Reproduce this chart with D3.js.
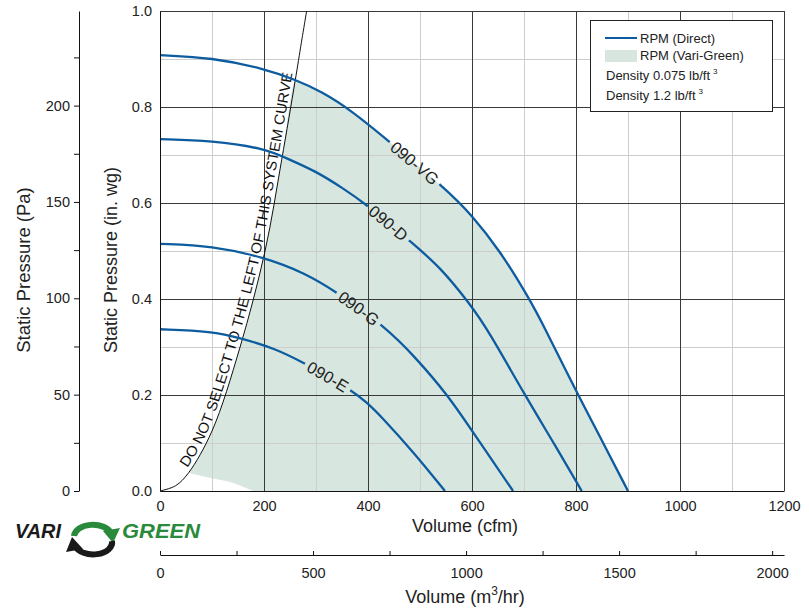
<!DOCTYPE html>
<html><head><meta charset="utf-8">
<script src="https://cdn.jsdelivr.net/npm/d3@7"></script>
<style>
body{margin:0;background:#fff}
text{font-family:"Liberation Sans",Arial,Helvetica,sans-serif}
</style>
</head><body>
<svg id="c" width="809" height="608"></svg>
<script>
// ---------------- data ----------------
const vgCfm = [0, 100, 200, 260, 311, 369, 442, 548, 599, 654, 708, 740, 800, 850, 900];
const vgIn  = [0.908, 0.903, 0.88, 0.857, 0.832, 0.792, 0.727, 0.631, 0.576, 0.5, 0.405, 0.34, 0.208, 0.105, 0];
const dCfm  = [0, 100, 200, 244, 300, 350, 400, 490, 538, 596, 631, 702, 760, 811];
const dIn   = [0.733, 0.73, 0.714, 0.693, 0.666, 0.632, 0.595, 0.512, 0.467, 0.39, 0.335, 0.199, 0.095, 0];
const gCfm  = [0, 100, 200, 279, 343, 433, 490, 554, 599, 679];
const gIn   = [0.515, 0.511, 0.487, 0.454, 0.412, 0.342, 0.28, 0.199, 0.127, 0];
const eCfm  = [0, 100, 157, 221, 279, 369, 398, 423, 490, 548];
const eIn   = [0.337, 0.333, 0.318, 0.297, 0.266, 0.21, 0.184, 0.158, 0.078, 0];
const curveNames = ["090-VG", "090-D", "090-G", "090-E"];
const labelStartCfm = [442, 400, 340, 279];

// system curve
const sysCfm = [0, 30, 55, 100, 154, 202, 234, 260, 272, 282];
const sysIn  = [0, 0.011, 0.038, 0.125, 0.30, 0.50, 0.69, 0.855, 0.935, 1.0];
const sysLabel = "DO NOT SELECT TO THE LEFT OF THIS SYSTEM CURVE";

// Vari-Green shaded area: lower boundary (min speed) and corner
const vgLowCfm = [55, 102, 141, 179];
const vgLowIn  = [0.0375, 0.026, 0.0167, 0];
const vgTopStartCfm = 264, vgTopStartIn = 0.855;

// axes ticks
const cfmTicks = [0, 200, 400, 600, 800, 1000, 1200];
const cfmMinor = [100, 300, 500, 700, 900, 1100];
const inTicks  = [0, 0.2, 0.4, 0.6, 0.8, 1.0];
const inMinor  = [0.1, 0.3, 0.5, 0.7, 0.9];
const paTicks  = [0, 25, 50, 75, 100, 125, 150, 175, 200, 225];
const m3Ticks  = [0, 250, 500, 750, 1000, 1250, 1500, 1750, 2000];

const legendItems = ["RPM (Direct)", "RPM (Vari-Green)"];
const densityItems = ["Density 0.075 lb/ft", "Density 1.2 lb/ft"];

// ---------------- drawing ----------------
const svg = d3.select("#c");
const X0 = 160, X1 = 784, Y0 = 491, Y1 = 11;
const x = d3.scaleLinear([0, 1200], [X0, X1]);
const y = d3.scaleLinear([0, 1], [Y0, Y1]);
const BLUE = "#0d5c9f", SHADE = "#d8e6e0";
const ln = d3.line().x(d => x(d[0])).y(d => y(d[1])).curve(d3.curveCatmullRom.alpha(0.5));
const lnFan = d3.line().x(d => x(d[0])).y(d => y(d[1])).curve(d3.curveBasis);

// shaded region
const topPts = [[vgTopStartCfm, vgTopStartIn]];
vgCfm.forEach((c, i) => { if (c > vgTopStartCfm) topPts.push([c, vgIn[i]]); });
const lowPts = [];
for (let i = vgLowCfm.length - 1; i >= 0; i--) lowPts.push([vgLowCfm[i], vgLowIn[i]]);
const sysPts = [[vgLowCfm[0], vgLowIn[0]]];
sysCfm.forEach((c, i) => { if (c > vgLowCfm[0] && c < vgTopStartCfm) sysPts.push([c, sysIn[i]]); });
sysPts.push([vgTopStartCfm, vgTopStartIn]);
const shadeD = lnFan(topPts) + "L" + ln(lowPts).slice(1) + "L" + ln(sysPts).slice(1) + "Z";
svg.append("path").attr("d", shadeD).attr("fill", SHADE);

// gridlines
const grid = svg.append("g").attr("shape-rendering", "crispEdges");
cfmMinor.forEach(v => grid.append("line").attr("x1", x(v)).attr("x2", x(v)).attr("y1", Y0).attr("y2", Y1).attr("stroke", "#cdcdcd"));
inMinor.forEach(v => grid.append("line").attr("x1", X0).attr("x2", X1).attr("y1", y(v)).attr("y2", y(v)).attr("stroke", "#cdcdcd"));
cfmTicks.slice(1).forEach(v => grid.append("line").attr("x1", x(v)).attr("x2", x(v)).attr("y1", Y0).attr("y2", Y1).attr("stroke", "#3a3a3a"));
inTicks.slice(1).forEach(v => grid.append("line").attr("x1", X0).attr("x2", X1).attr("y1", y(v)).attr("y2", y(v)).attr("stroke", "#3a3a3a"));

// system curve
const sysPath = svg.append("path").attr("id", "sys")
  .attr("d", ln(sysCfm.map((c, i) => [c, sysIn[i]])))
  .attr("fill", "none").attr("stroke", "#111").attr("stroke-width", 1);

function lengthAtY(node, ty) {
  let lo = 0, hi = node.getTotalLength();
  for (let k = 0; k < 40; k++) { const m = (lo + hi) / 2; if (node.getPointAtLength(m).y > ty) lo = m; else hi = m; }
  return lo;
}
function lengthAtX(node, tx) {
  let lo = 0, hi = node.getTotalLength();
  for (let k = 0; k < 40; k++) { const m = (lo + hi) / 2; if (node.getPointAtLength(m).x < tx) lo = m; else hi = m; }
  return lo;
}
const sysStart = lengthAtY(sysPath.node(), 470);
const sysEnd = lengthAtY(sysPath.node(), 74);
svg.append("text").attr("font-size", 14.5).attr("fill", "#111").attr("dy", -4)
  .append("textPath").attr("href", "#sys").attr("startOffset", sysStart)
  .attr("textLength", sysEnd - sysStart).attr("lengthAdjust", "spacingAndGlyphs").text(sysLabel);

// fan curves
const curves = [[vgCfm, vgIn], [dCfm, dIn], [gCfm, gIn], [eCfm, eIn]];
curves.forEach((cv, i) => {
  const id = "fan" + i;
  const p = svg.append("path").attr("id", id)
    .attr("d", lnFan(cv[0].map((c, j) => [c, cv[1][j]])))
    .attr("fill", "none").attr("stroke", BLUE).attr("stroke-width", 2.3);
  const node = p.node(), total = node.getTotalLength();
  const s = lengthAtX(node, x(labelStartCfm[i]));
  const t = svg.append("text").attr("font-size", 16.5).attr("fill", "#222").attr("dy", "0.36em");
  t.append("textPath").attr("href", "#" + id).attr("startOffset", s + 4).text(curveNames[i]);
  const w = t.node().getComputedTextLength();
  p.attr("stroke-dasharray", `${s} ${w + 8} ${total}`);
});

function styleText(g) {
  g.selectAll("text").attr("font-size", 14.5).attr("fill", "#222").style("font-family", "Liberation Sans, Arial");
}
// left in.wg axis
const axIn = svg.append("g").attr("transform", `translate(${X0},0)`)
  .call(d3.axisLeft(y).tickValues(inTicks).tickFormat(d3.format(".1f")).tickSize(0).tickPadding(8));
axIn.select(".domain").attr("stroke", "#111");
styleText(axIn);

// bottom cfm axis
const axX = svg.append("g").attr("transform", `translate(0,${Y0})`)
  .call(d3.axisBottom(x).tickValues(cfmTicks).tickFormat(d3.format("d")).tickSize(0).tickPadding(10));
axX.select(".domain").attr("stroke", "#111");
styleText(axX);

// Pa axis
const pa = d3.scaleLinear([0, 249.09], [Y0, Y1]);
const axPa = svg.append("g").attr("transform", "translate(79,0)")
  .call(d3.axisLeft(pa).tickValues(paTicks).tickFormat(d => d % 50 === 0 ? d : "").tickSizeInner(5).tickSizeOuter(0).tickPadding(4));
axPa.select(".domain").attr("stroke", "#111");
axPa.selectAll("line").attr("stroke", "#111");
styleText(axPa);

// m3/hr axis
const m3 = d3.scaleLinear([0, 1200 / 0.5886], [X0, X1]);
const axM = svg.append("g").attr("transform", "translate(0,555)")
  .call(d3.axisBottom(m3).tickValues(m3Ticks).tickFormat(d => d % 500 === 0 ? String(d) : "").tickSizeInner(-4).tickSizeOuter(0).tickPadding(13));
axM.select(".domain").attr("stroke", "#111");
axM.selectAll("line").attr("stroke", "#111");
styleText(axM);

// axis titles
svg.append("text").attr("transform", "translate(30,270) rotate(-90)").attr("text-anchor", "middle")
  .attr("font-size", 18.5).attr("fill", "#222").text("Static Pressure (Pa)");
svg.append("text").attr("transform", "translate(117,260) rotate(-90)").attr("text-anchor", "middle")
  .attr("font-size", 18).attr("fill", "#222").text("Static Pressure (in. wg)");
svg.append("text").attr("x", 465).attr("y", 532).attr("text-anchor", "middle")
  .attr("font-size", 18).attr("fill", "#222").text("Volume (cfm)");
const tm = svg.append("text").attr("x", 465).attr("y", 603).attr("text-anchor", "middle")
  .attr("font-size", 18).attr("fill", "#222");
tm.append("tspan").text("Volume (m");
tm.append("tspan").attr("font-size", 12).attr("dy", -8).text("3");
tm.append("tspan").attr("dy", 8).text("/hr)");

// legend
const lg = svg.append("g");
lg.append("rect").attr("x", 590.5).attr("y", 20.5).attr("width", 182).attr("height", 91)
  .attr("fill", "#fff").attr("stroke", "#222");
lg.append("line").attr("x1", 605).attr("x2", 637).attr("y1", 38).attr("y2", 38).attr("stroke", BLUE).attr("stroke-width", 2);
lg.append("rect").attr("x", 605).attr("y", 50).attr("width", 32).attr("height", 12).attr("fill", SHADE);
legendItems.forEach((t, i) => lg.append("text").attr("x", 640).attr("y", 43 + i * 17).attr("font-size", 13).attr("fill", "#222").text(t));
densityItems.forEach((d, i) => {
  const t = lg.append("text").attr("x", 606).attr("y", 80 + i * 20).attr("font-size", 13).attr("fill", "#222");
  t.append("tspan").text(d);
  t.append("tspan").attr("font-size", 8).attr("dx", 3).attr("dy", -6).text("3");
});

// logo
const logo = svg.append("g");
logo.append("text").attr("x", 15).attr("y", 538).attr("font-size", 21).attr("font-style", "italic").attr("font-weight", "bold")
  .attr("fill", "#1a1a1a").attr("textLength", 46).attr("lengthAdjust", "spacingAndGlyphs").text("VARI");
logo.append("path").attr("d", "M74,536 A19,12 0 0,1 111,533").attr("fill", "none").attr("stroke", "#2a8a3c").attr("stroke-width", 6);
logo.append("path").attr("d", "M103,531 L120,528 L113,543 Z").attr("fill", "#2a8a3c");
logo.append("path").attr("d", "M112,541 A19,12 0 0,1 75,546").attr("fill", "none").attr("stroke", "#1a1a1a").attr("stroke-width", 6);
logo.append("path").attr("d", "M83,549 L66,552 L72,537 Z").attr("fill", "#1a1a1a");
logo.append("text").attr("x", 122).attr("y", 538).attr("font-size", 21).attr("font-style", "italic").attr("font-weight", "bold")
  .attr("fill", "#2a8a3c").attr("textLength", 78).attr("lengthAdjust", "spacingAndGlyphs").text("GREEN");
</script>
</body></html>
